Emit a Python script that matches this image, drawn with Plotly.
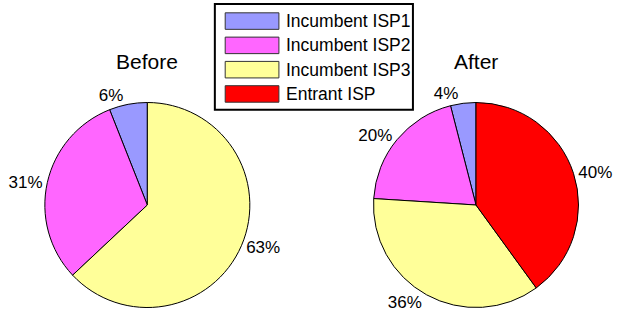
import plotly.graph_objects as go

labels = ["Incumbent ISP1", "Incumbent ISP2", "Incumbent ISP3", "Entrant ISP"]
colors = ["#9999FF", "#FF66FF", "#FFFF99", "#FF0000"]
before_values = [6, 31, 63]
after_values = [4, 20, 36, 40]
titles = ["Before", "After"]

W, H = 620, 317
FONT = "Liberation Sans, Arial, Helvetica, sans-serif"

def px_dom(cx, cy, r):
    return dict(x=[(cx - r) / W, (cx + r) / W], y=[(H - cy - r) / H, (H - cy + r) / H])

fig = go.Figure()
pies = [(before_values, px_dom(148.5, 211, 105.5)), (after_values, px_dom(482, 211, 105.5))]
for vals, dom in pies:
    n = len(vals)
    # counterclockwise: first slice begins at 12 o'clock and runs to the left
    rot = -360.0 * vals[0] / sum(vals)
    fig.add_trace(go.Pie(
        labels=labels[:n], values=vals, sort=False, direction="counterclockwise",
        rotation=rot, domain=dom,
        marker=dict(colors=colors[:n], line=dict(color="black", width=1)),
        textposition="outside", texttemplate="%{value}%",
        textfont=dict(size=17, color="black", family=FONT),
        showlegend=False, hoverinfo="label+value",
    ))

annotations = []
for t, cx in zip(titles, [148.5, 482]):
    annotations.append(dict(text=t, x=cx / W, y=1 - 63 / H, xref="paper", yref="paper",
                            xanchor="center", yanchor="middle", showarrow=False,
                            font=dict(size=21, color="black", family=FONT)))

shapes = [dict(type="rect", xref="paper", yref="paper",
               x0=217 / W, x1=418 / W, y0=1 - 113 / H, y1=1 - 4 / H,
               line=dict(color="black", width=2), fillcolor="white", layer="below")]
row_y = [21.7, 46.7, 71.7, 96.7]
for lab, col, yc in zip(labels, colors, row_y):
    shapes.append(dict(type="rect", xref="paper", yref="paper",
                       x0=227.5 / W, x1=282 / W, y0=1 - (yc + 8.5) / H, y1=1 - (yc - 8.5) / H,
                       line=dict(color="#333333", width=1), fillcolor=col))
    annotations.append(dict(text=lab, x=287.5 / W, y=1 - yc / H, xref="paper", yref="paper",
                            xanchor="left", yanchor="middle", showarrow=False,
                            font=dict(size=17.5, color="black", family=FONT)))

fig.update_layout(width=W, height=H, margin=dict(l=0, r=0, t=0, b=0),
                  paper_bgcolor="white", plot_bgcolor="white",
                  annotations=annotations, shapes=shapes)
fig.write_html("out.html", config={"displayModeBar": False},
               post_script="document.body.style.margin='0';document.body.style.overflow='hidden';")
